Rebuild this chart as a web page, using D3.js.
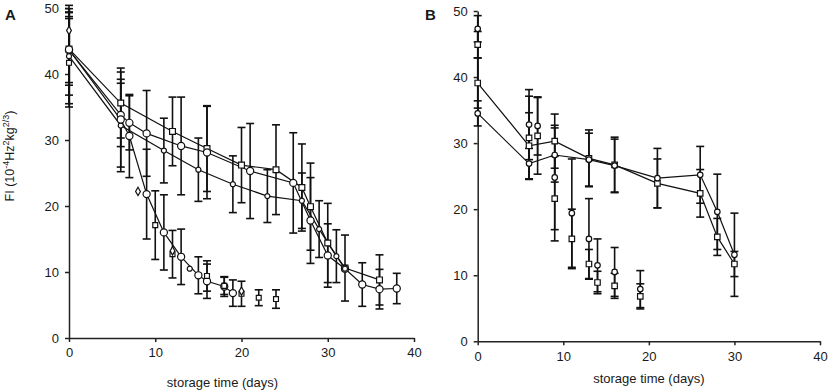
<!DOCTYPE html>
<html>
<head>
<meta charset="utf-8">
<script src="https://cdn.jsdelivr.net/npm/d3@7"></script>
<style>
body { margin: 0; background: #fff; }
svg text { font-family: "Liberation Sans", Arial, sans-serif; fill: #1a1a1a; }
</style>
</head>
<body>
<svg id="chart" width="829" height="392"></svg>
<script>
// each point is [day, FI, sd]
var dayTicks = [0, 10, 20, 30, 40]
var fiTicks = [0, 10, 20, 30, 40, 50]

// panel A
var seriesA1 = [[0,43.8,5.5],[6,35.6,5.3],[12,31.3,5.2],[16,28.7,6.5],[20,26.2,5.7],[24,25.5,6.8],[27,22.8,6.6],[28,19.9,6.6],[30,14.4,6.0],[32,10.6,5.0],[36,8.8,3.8]]
var seriesA2 = [[0,43.6,6.8],[6,33.8,4.8],[7,32.6,4.1],[9,31.0,6.5],[13,29.1,7.4],[16,28.1,7.0],[21,25.3,7.2],[26,23.5,7.6],[28,17.8,6.5],[30,12.5,4.8],[32,10.5,0],[34,8.1,3.3],[36,7.4,3.0],[38,7.5,2.3]]
var seriesA3 = [[0,42.7,7.2],[6,32.2,7.0],[11,28.4,4.9],[15,25.5,4.8],[19,23.3,4.3],[23,21.5,4.0],[27,20.8,4.2],[29,16.5,4.3],[31,12.4,4.0],[32,10.5,0]]
var seriesA4 = [[0,43.7,5.0],[6,33.1,7.2],[7,30.6,6.3],[9,21.8,6.8],[11,16.0,5.7],[13,12.3,4.2],[15,9.5,2.8],[16,8.6,2.6],[18,7.8,1.5],[19,6.8,2.0]]
var seriesA5 = [[0,41.7,6.7],[10,17.1,5.2],[12,12.7,3.6],[16,9.4,2.3],[18,7.9,1.3],[20,6.7,1.9],[22,6.1,1.2],[24,5.9,1.4]]
var seriesA6 = [[0,46.6,2.8],[8,22.2,0],[12,13.2,0],[20,7.1,0]]
var seriesA7 = [[14,10.5,0]]

// panel B
var seriesB1 = [[0,39.1,3.8],[6,29.6,5.0],[9,30.3,4.1],[13,27.7,4.3],[16,26.7,4.2],[21,23.9,3.7],[26,22.4,3.6],[28,15.8,2.8],[30,11.7,1.9]]
var seriesB2 = [[0,34.5,1.9],[6,26.9,2.3],[9,28.2,4.1],[13,27.5,4.0],[16,26.6,4.0],[21,24.7,4.5],[26,25.2,4.3],[28,19.6,5.7],[30,13.1,6.3]]
var seriesB3 = [[0,47.3,2.0],[6,32.8,5.3],[7,32.6,4.4],[9,24.8,7.9],[11,19.4,8.2],[13,15.5,6.1],[14,11.5,4.0],[16,10.5,3.7],[19,7.9,2.8]]
var seriesB4 = [[0,44.9,2.0],[6,30.8,6.3],[7,31.1,5.8],[9,21.6,6.4],[11,15.5,4.5],[13,11.7,2.2],[14,8.9,1.7],[16,8.4,1.9],[19,6.8,1.9]]

var svg = d3.select('#chart')

function drawPanel(p) {
    var x = d3.scaleLinear().domain([0, 40]).range([p.x0, p.x1])
    var y = d3.scaleLinear().domain([0, 50]).range([p.y0, p.y1])
    var g = svg.append('g')

    g.append('g')
        .attr('transform', 'translate(0,' + p.y0 + ')')
        .call(d3.axisBottom(x).tickValues(dayTicks).tickSize(4).tickSizeOuter(0).tickPadding(6))
    g.append('g')
        .attr('transform', 'translate(' + p.x0 + ',0)')
        .call(d3.axisLeft(y).tickValues(fiTicks).tickSize(4).tickSizeOuter(0).tickPadding(6))
    g.selectAll('.domain, .tick line').attr('stroke', '#222').attr('stroke-width', 1.5)
    g.selectAll('.tick text').attr('font-size', 13).attr('font-family', '"Liberation Sans", Arial, sans-serif').attr('fill', '#1a1a1a')

    // connecting lines
    p.series.forEach(function (s) {
        if (!s.line) return
        g.append('path')
            .attr('d', d3.line().x(d => x(d[0])).y(d => y(d[1]))(s.data))
            .attr('fill', 'none')
            .attr('stroke', '#111')
            .attr('stroke-width', 1.2)
    })

    // error bars
    p.series.forEach(function (s) {
        s.data.filter(d => d[2] > 0).forEach(function (d) {
            var cx = x(d[0]), top = y(d[1] + d[2]), bot = y(Math.max(0, d[1] - d[2]))
            g.append('line').attr('x1', cx).attr('x2', cx).attr('y1', top).attr('y2', bot)
                .attr('stroke', '#111').attr('stroke-width', 1.6)
            ;[top, bot].forEach(function (yy) {
                g.append('line').attr('x1', cx - 4).attr('x2', cx + 4).attr('y1', yy).attr('y2', yy)
                    .attr('stroke', '#111').attr('stroke-width', 1.6)
            })
        })
    })

    // markers
    p.series.forEach(function (s) {
        g.selectAll(null).data(s.data).enter().append('path')
            .attr('d', d3.symbol().type(s.shape).size(s.size))
            .attr('transform', d => 'translate(' + x(d[0]) + ',' + y(d[1]) + ')')
            .attr('fill', '#fff')
            .attr('stroke', '#111')
            .attr('stroke-width', 1.2)
    })

    g.append('text')
        .attr('x', p.labelX).attr('y', p.labelY)
        .attr('font-size', 15).attr('font-weight', 'bold')
        .text(p.label)

    g.append('text')
        .attr('x', (p.x0 + p.x1) / 2 + p.titleShift).attr('y', p.titleY)
        .attr('text-anchor', 'middle')
        .attr('font-size', 13)
        .text('storage time (days)')
}

drawPanel({
    x0: 69, x1: 414, y0: 338, y1: 8,
    label: 'A', labelX: 5, labelY: 20, titleY: 387, titleShift: -19,
    series: [
        { data: seriesA1, line: true, shape: d3.symbolSquare, size: 34 },
        { data: seriesA2, line: true, shape: d3.symbolCircle, size: 40 },
        { data: seriesA3, line: true, shape: d3.symbolCircle, size: 20 },
        { data: seriesA4, line: true, shape: d3.symbolCircle, size: 40 },
        { data: seriesA5, line: false, shape: d3.symbolSquare, size: 24 },
        { data: seriesA6, line: false, shape: d3.symbolDiamond, size: 20 },
        { data: seriesA7, line: false, shape: d3.symbolCircle, size: 20 }
    ]
})

drawPanel({
    x0: 477.7, x1: 820, y0: 341.3, y1: 11,
    label: 'B', labelX: 425, labelY: 20, titleY: 383, titleShift: 0,
    series: [
        { data: seriesB1, line: true, shape: d3.symbolSquare, size: 30 },
        { data: seriesB2, line: true, shape: d3.symbolCircle, size: 24 },
        { data: seriesB3, line: false, shape: d3.symbolCircle, size: 24 },
        { data: seriesB4, line: false, shape: d3.symbolSquare, size: 30 }
    ]
})

// y axis title (panel A)
var yt = svg.append('text')
    .attr('transform', 'translate(14,156) rotate(-90)')
    .attr('text-anchor', 'middle')
    .attr('font-size', 12.5)
yt.append('tspan').text('FI (10')
yt.append('tspan').attr('dy', -5).attr('font-size', 9).text('-4')
yt.append('tspan').attr('dy', 5).text('Hz')
yt.append('tspan').attr('dy', -5).attr('font-size', 9).text('2')
yt.append('tspan').attr('dy', 5).text('kg')
yt.append('tspan').attr('dy', -5).attr('font-size', 9).text('2/3')
yt.append('tspan').attr('dy', 5).text(')')
</script>
</body>
</html>
